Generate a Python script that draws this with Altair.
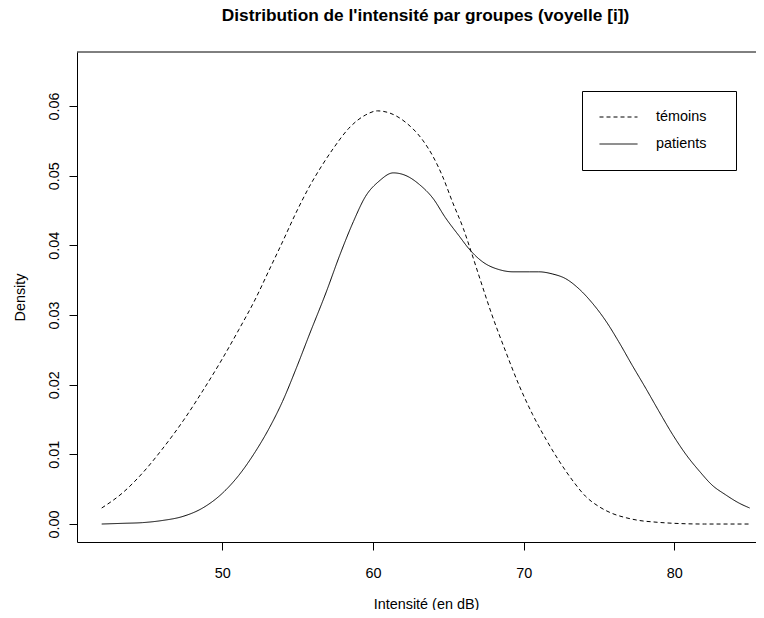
import altair as alt
import pandas as pd

# Témoins (dashed)
temoins_x = [42.0, 43.4, 44.7, 46.0, 47.4, 48.7, 50.0, 51.1, 52.2, 53.1, 54.0, 54.9,
             55.8, 56.6, 57.4, 58.4, 59.5, 60.3, 61.1, 62.2, 63.3, 64.0, 64.6, 65.3,
             66.0, 66.5, 67.1, 67.9, 68.8, 69.7, 70.6, 71.5, 72.4, 73.3, 74.1, 75.0,
             75.9, 76.8, 77.7, 78.6, 80.0, 82.0, 85.0]
temoins_d = [0.0023, 0.0045, 0.0073, 0.0107, 0.0148, 0.0191, 0.0237, 0.0279, 0.0323,
             0.0364, 0.0405, 0.0447, 0.0485, 0.0514, 0.0540, 0.0568, 0.0587, 0.0593,
             0.0590, 0.0576, 0.0551, 0.0527, 0.0500, 0.0461, 0.0424, 0.0392, 0.0352,
             0.0300, 0.0248, 0.0199, 0.0157, 0.0121, 0.0089, 0.0061, 0.0040, 0.0025,
             0.0015, 0.0009, 0.0005, 0.0003, 0.0001, 0.0000, 0.0000]

# Patients (solid)
patients_x = [42.0, 43.4, 44.7, 46.0, 47.4, 48.7, 50.0, 51.1, 52.2, 53.1, 54.0, 54.9,
              55.8, 56.9, 57.8, 58.7, 59.5, 60.4, 61.35, 62.2, 63.1, 64.0, 64.8, 65.7,
              66.45, 67.3, 68.4, 69.3, 70.4, 71.0, 71.9, 72.8, 73.7, 74.6, 75.5, 76.3,
              77.2, 78.1, 79.0, 79.9, 80.8, 81.7, 82.5, 83.4, 84.3, 85.0]
patients_d = [0.0000, 0.0001, 0.0002, 0.0005, 0.0011, 0.0023, 0.0044, 0.0070, 0.0104,
              0.0137, 0.0176, 0.0223, 0.0273, 0.0333, 0.0386, 0.0434, 0.0470, 0.0492,
              0.0504, 0.0500, 0.0487, 0.0467, 0.0440, 0.0414, 0.0393, 0.0376, 0.0365,
              0.0362, 0.0362, 0.0362, 0.0359, 0.0352, 0.0337, 0.0316, 0.0290, 0.0262,
              0.0228, 0.0195, 0.0161, 0.0128, 0.0099, 0.0075, 0.0056, 0.0042, 0.0030,
              0.0023]

groups = ["témoins", "patients"]
x_ticks = [50, 60, 70, 80]
y_ticks = [0.0, 0.01, 0.02, 0.03, 0.04, 0.05, 0.06]

df = pd.concat([
    pd.DataFrame({"x": temoins_x, "d": temoins_d, "groupe": groups[0], "o": range(len(temoins_x))}),
    pd.DataFrame({"x": patients_x, "d": patients_d, "groupe": groups[1], "o": range(len(patients_x))}),
])

FONT = "Liberation Sans"
W, H = 679, 490

lines = alt.Chart(df).mark_line(color="black", strokeWidth=1, interpolate="monotone", clip=True).encode(
    x=alt.X("x:Q", scale=alt.Scale(domain=[40.36, 85.42], nice=False, zero=False),
            axis=alt.Axis(values=x_ticks, title="Intensité (en dB)", grid=False,
                          tickSize=8, labelPadding=27, labelBaseline="alphabetic",
                          titleBaseline="alphabetic", titleY=66, titleX=349, titleAlign="center",
                          domainColor="black", tickColor="black")),
    y=alt.Y("d:Q", scale=alt.Scale(domain=[-0.00258, 0.06775], nice=False, zero=False),
            axis=alt.Axis(values=y_ticks, format=".2f", title="Density", grid=False,
                          labelAngle=270, labelAlign="center", labelBaseline="alphabetic",
                          tickSize=8, labelPadding=11,
                          titleAngle=270, titleBaseline="alphabetic", titleX=-53, titleY=245,
                          titleAlign="center",
                          domainColor="black", tickColor="black")),
    strokeDash=alt.StrokeDash("groupe:N",
                              scale=alt.Scale(domain=groups, range=[[4, 3], [1, 0]]),
                              legend=alt.Legend(title=None, orient="none", legendX=505, legendY=39,
                                                symbolType="stroke", symbolSize=1444,
                                                symbolStrokeColor="black", symbolStrokeWidth=1,
                                                clipHeight=18, rowPadding=9, padding=17,
                                                labelOffset=18, labelFontSize=14.4, labelFont=FONT,
                                                labelColor="black",
                                                labelExpr="datum.label + '\u00a0\u00a0\u00a0\u200b'",
                                                strokeColor="black", fillColor="white")),
    order="o:Q",
)

top_border = alt.Chart(pd.DataFrame({"k": [0]})).mark_rule(color="black", strokeWidth=1).encode(
    x=alt.value(0), x2=alt.value(W), y=alt.value(0)
)

chart = alt.layer(lines, top_border).properties(
    width=W, height=H,
    title=alt.TitleParams("Distribution de l'intensité par groupes (voyelle [i])",
                          font=FONT, fontSize=17.3, fontWeight="bold", color="black",
                          anchor="middle", baseline="alphabetic", offset=13, dx=9),
    autosize=alt.AutoSizeParams(type="none"),
    padding={"left": 69, "top": 44, "right": 0, "bottom": 68},
).configure_view(strokeWidth=0, stroke="white").configure_axis(
    labelFont=FONT, titleFont=FONT, labelFontSize=14.4, titleFontSize=14.4,
    labelColor="black", titleColor="black", titleFontWeight="normal",
)

chart.save("out.html", embed_options={"renderer": "svg", "actions": False})
